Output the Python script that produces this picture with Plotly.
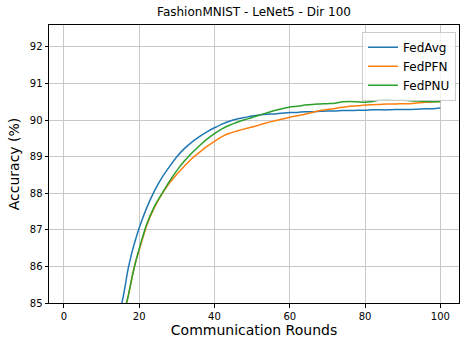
import plotly.graph_objects as go

# communication rounds (curves start below the visible 85% floor)
rounds = [14, 15, 16, 17, 18, 19, 20, 22, 24, 26, 28, 30, 32, 34, 36, 38, 40,
          42, 44, 46, 48, 50, 52, 54, 56, 58, 60, 62, 64, 66, 68, 70, 72, 74,
          76, 78, 80, 82, 84, 86, 88, 90, 92, 94, 96, 98, 100]

fedavg = [84.3, 84.8, 85.3, 85.9, 86.35, 86.72, 87.05, 87.6, 88.05, 88.42, 88.72,
          89.0, 89.22, 89.4, 89.55, 89.68, 89.79, 89.89, 89.97, 90.03, 90.07,
          90.11, 90.14, 90.16, 90.17, 90.19, 90.21, 90.21, 90.23, 90.23, 90.24,
          90.25, 90.25, 90.26, 90.26, 90.27, 90.27, 90.28, 90.28, 90.28, 90.29,
          90.29, 90.29, 90.30, 90.31, 90.31, 90.33]

fedpfn = [84.0, 84.4, 84.75, 85.15, 85.65, 86.1, 86.45, 87.12, 87.6, 87.97,
          88.27, 88.52, 88.74, 88.95, 89.12, 89.28, 89.42, 89.55, 89.64, 89.7,
          89.76, 89.81, 89.87, 89.93, 89.98, 90.03, 90.08, 90.12, 90.16, 90.21,
          90.26, 90.29, 90.32, 90.35, 90.38, 90.39, 90.41, 90.42, 90.43, 90.44,
          90.44, 90.45, 90.45, 90.47, 90.49, 90.5, 90.51]

fedpnu = [84.0, 84.4, 84.75, 85.15, 85.65, 86.1, 86.48, 87.15, 87.63, 87.98,
          88.32, 88.62, 88.88, 89.1, 89.3, 89.48, 89.63, 89.76, 89.86, 89.94,
          90.01, 90.07, 90.14, 90.2, 90.26, 90.31, 90.36, 90.38, 90.41, 90.43,
          90.44, 90.45, 90.46, 90.5, 90.51, 90.5, 90.49, 90.51, 90.55, 90.56,
          90.54, 90.54, 90.53, 90.52, 90.51, 90.5, 90.51]

series = [
    ("FedAvg", fedavg, "#1f77b4"),
    ("FedPFN", fedpfn, "#ff7f0e"),
    ("FedPNU", fedpnu, "#2ca02c"),
]

font = "DejaVu Sans"

fig = go.Figure()
for name, vals, color in series:
    fig.add_trace(go.Scatter(
        x=rounds, y=vals, mode="lines", name=name,
        line=dict(color=color, width=1.5, shape="spline", smoothing=0.6),
    ))

axis_common = dict(
    showgrid=True, gridcolor="#c8c8c8", gridwidth=0.8,
    showline=True, linecolor="black", linewidth=1, mirror=True,
    ticks="outside", ticklen=3.5, tickcolor="black", tickwidth=0.8,
    zeroline=False, automargin=False,
    tickfont=dict(family=font, size=10, color="black"),
)

fig.update_layout(
    width=468, height=349,
    margin=dict(l=49, r=9, t=25, b=46),
    plot_bgcolor="white", paper_bgcolor="white",
    font=dict(family=font, color="black"),
    title=dict(
        text="FashionMNIST - LeNet5 - Dir 100",
        x=0.5, xref="paper", y=1 - 12 / 349, yref="container",
        xanchor="center", yanchor="middle",
        font=dict(family=font, size=12, color="black"),
    ),
    xaxis=dict(
        # rounds run 1..100, padded by 5% like matplotlib's default margins
        range=[-3.95, 104.95], tick0=0, dtick=20,
        title=dict(text="Communication Rounds", font=dict(family=font, size=14),
                   standoff=4),
        **axis_common,
    ),
    yaxis=dict(
        range=[85, 92.6], tick0=85, dtick=1,
        title=dict(text="Accuracy (%)", font=dict(family=font, size=14),
                   standoff=6),
        **axis_common,
    ),
    legend=dict(
        x=0.9927, y=0.976, xanchor="right", yanchor="top",
        bgcolor="rgba(255,255,255,0.8)", bordercolor="#cccccc", borderwidth=1,
        font=dict(family=font, size=12, color="black"),
        itemwidth=30,
    ),
    showlegend=True,
)

# drop the browser's default 8px body margin so the figure sits at (0, 0)
fig.write_html("out.html", config={"displayModeBar": False},
               post_script="document.body.style.margin = '0';")
